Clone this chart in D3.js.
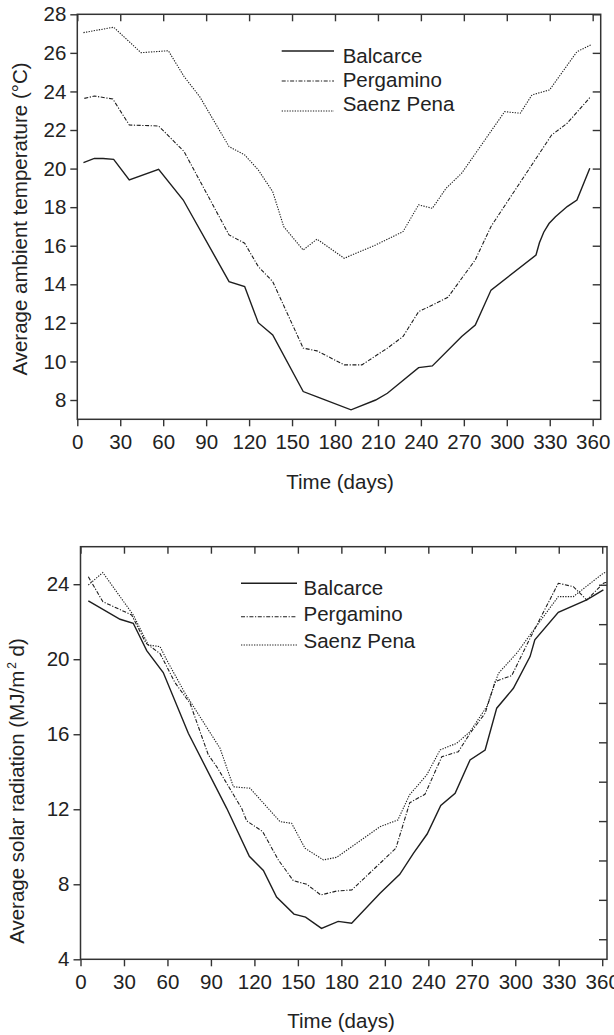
<!DOCTYPE html>
<html>
<head>
<meta charset="utf-8">
<script src="https://cdn.jsdelivr.net/npm/d3@7/dist/d3.min.js"></script>
<style>
  body { margin: 0; background: #fff; }
  svg { display: block; }
  text { font-family: "Liberation Sans", Arial, Helvetica, sans-serif; fill: #222; }
</style>
</head>
<body>
<div id="chart"></div>
<script>
// ---- data ----
const seriesNames = ['Balcarce', 'Pergamino', 'Saenz Pena'];
const xTicks = [0, 30, 60, 90, 120, 150, 180, 210, 240, 270, 300, 330, 360];

// top panel: average ambient temperature (°C), [day, value]
const tempBalcarce = [
    [4.3, 20.31], [11.9, 20.53], [18, 20.52], [25.4, 20.48], [36.3, 19.41], [56.8, 19.96],
    [74, 18.37], [106, 14.14], [116.9, 13.88], [126.4, 12.01], [136.5, 11.37], [157.8, 8.44],
    [168, 8.15], [191.2, 7.49], [208.4, 8.0], [216.6, 8.35], [238.4, 9.68], [248, 9.77],
    [268.5, 11.29], [278, 11.89], [289, 13.7], [320.4, 15.52], [322.8, 16.15], [325.8, 16.7],
    [329.5, 17.15], [334, 17.5], [342.2, 18.03], [349, 18.37], [358, 20.02]
];
const tempPergamino = [
    [4.9, 23.64], [11.9, 23.76], [24.8, 23.61], [36.3, 22.26], [56.8, 22.21], [74.6, 20.88],
    [106, 16.56], [116.9, 16.13], [126.4, 14.92], [136.5, 14.14], [157.8, 10.69], [167.4, 10.55],
    [186.5, 9.82], [198.8, 9.82], [216.6, 10.69], [227.5, 11.29], [238.4, 12.58], [250.7, 13.02],
    [258.9, 13.33], [278, 15.27], [289, 17.0], [301.2, 18.37], [331.3, 21.74], [342.2, 22.35],
    [358.6, 23.73]
];
const tempSaenzPena = [
    [4.3, 27.05], [25.4, 27.33], [44.5, 26.01], [63.6, 26.11], [74.6, 24.77], [85.5, 23.73],
    [106, 21.14], [116.9, 20.71], [126.4, 19.93], [136.5, 18.8], [144.2, 16.99], [157.8, 15.78],
    [167.4, 16.34], [186.5, 15.35], [208.4, 16.04], [227.5, 16.73], [238.4, 18.12], [248, 17.94],
    [257.6, 18.98], [268.5, 19.76], [298.5, 22.95], [309.4, 22.87], [317.6, 23.82], [329.9, 24.08],
    [349, 26.06], [358.6, 26.41]
];
const tempTicks = [8, 10, 12, 14, 16, 18, 20, 22, 24, 26, 28];

// bottom panel: average solar radiation (MJ/m2 d), [day, value]
const radBalcarce = [
    [5.4, 23.11], [27.3, 22.13], [36.4, 21.92], [45.7, 20.46], [57.1, 19.29], [74.4, 16.05],
    [100.9, 12.05], [116.5, 9.49], [126.2, 8.74], [135.3, 7.32], [147.3, 6.41], [155.3, 6.25],
    [166.3, 5.65], [177.8, 6.02], [187.1, 5.92], [206.7, 7.52], [220.3, 8.53], [229.7, 9.65],
    [239.2, 10.68], [248.6, 12.2], [258.5, 12.85], [268.8, 14.63], [279.2, 15.16], [287.2, 17.39],
    [298.7, 18.45], [310.2, 20.14], [313.5, 21.03], [329.7, 22.5], [349.3, 23.16], [360.8, 23.7]
];
const radPergamino = [
    [5.4, 24.4], [15.4, 23.07], [35.3, 22.36], [45.2, 20.85], [54.9, 20.3], [65.2, 18.75],
    [75.6, 17.65], [88.2, 14.9], [94, 14.27], [111.2, 12.05], [114.7, 11.38], [125.7, 10.81],
    [136.5, 9.3], [146.9, 8.19], [156.1, 8.0], [165.8, 7.43], [176.8, 7.64], [187.2, 7.7],
    [206.7, 9.12], [217.6, 9.92], [227.2, 12.35], [237.7, 12.8], [249.3, 14.8], [260.7, 15.07],
    [268.8, 16.05], [279.2, 17.12], [286.1, 18.81], [297.6, 19.13], [310.2, 21.12], [329.7, 24.05],
    [340.1, 23.87], [349.3, 23.16], [360.8, 24.05], [363, 24.1]
];
const radSaenzPena = [
    [5.4, 23.96], [15.4, 24.62], [36.4, 22.36], [46.8, 20.76], [54.9, 20.67], [59.5, 19.96],
    [72.1, 18.19], [96.3, 15.25], [105.5, 13.2], [117, 13.12], [137.7, 11.34], [145.7, 11.25],
    [154.9, 9.92], [167.6, 9.3], [176.8, 9.44], [206.7, 11.07], [219, 11.43], [227, 12.76],
    [238.9, 13.83], [248.1, 15.16], [259.6, 15.52], [268.8, 16.14], [280.3, 17.47], [288.4, 19.25],
    [301, 20.32], [310.2, 21.3], [329.7, 23.34], [340.1, 23.34], [360.8, 24.59], [363, 24.65]
];
const radTicks = [4, 8, 12, 16, 20, 24];
const radRightTicks = [5.07, 7.17, 9.27, 11.37, 13.47, 15.57, 17.67, 19.77, 21.87, 23.97];

// ---- drawing ----
const W = 614, H = 1035;
const svg = d3.select('#chart').append('svg')
    .attr('width', W).attr('height', H)
    .attr('viewBox', `0 0 ${W} ${H}`);

const styles = [
    { width: 1.4, dash: null },
    { width: 1.1, dash: '4,1.6,1.2,1.6' },
    { width: 1.1, dash: '1.3,1.3' }
];

function panel(cfg) {
    const x = d3.scaleLinear().domain([0, cfg.xMax]).range([cfg.left, cfg.right]);
    const y = d3.scaleLinear().domain(cfg.yDomain).range([cfg.bottom, cfg.top]);
    const g = svg.append('g');

    // series lines
    const line = d3.line().x(d => x(d[0])).y(d => y(d[1]));
    cfg.series.forEach((s, i) => {
        g.append('path')
            .attr('d', line(s))
            .attr('fill', 'none')
            .attr('stroke', '#1e1e1e')
            .attr('stroke-width', styles[i].width)
            .attr('stroke-dasharray', styles[i].dash);
    });

    // axes
    const axB = g.append('g').attr('transform', `translate(0,${cfg.bottom})`)
        .call(d3.axisBottom(x).tickValues(xTicks).tickSize(7).tickPadding(8.5).tickSizeOuter(0));
    const axT = g.append('g').attr('transform', `translate(0,${cfg.top})`)
        .call(d3.axisBottom(x).tickValues(xTicks).tickSize(7).tickFormat('').tickSizeOuter(0));
    const axL = g.append('g').attr('transform', `translate(${cfg.left},0)`)
        .call(d3.axisLeft(y).tickValues(cfg.yTicks).tickSize(7).tickPadding(4).tickSizeOuter(0));
    const axR = g.append('g').attr('transform', `translate(${cfg.right},0)`)
        .call(d3.axisLeft(y).tickValues(cfg.rightTicks).tickSize(8).tickFormat('').tickSizeOuter(0));

    [axB, axT, axL, axR].forEach(a => {
        a.select('.domain').remove();
        a.selectAll('line').attr('stroke', '#333').attr('stroke-width', 1.4);
        a.selectAll('text').attr('font-size', 20.5).attr('fill', '#222')
            .style('font-family', '"Liberation Sans", Arial, sans-serif');
    });
    axB.selectAll('text').attr('dy', '0.71em');

    // frame
    g.append('rect')
        .attr('x', cfg.left).attr('y', cfg.top)
        .attr('width', cfg.right - cfg.left).attr('height', cfg.bottom - cfg.top)
        .attr('fill', 'none').attr('stroke', '#333').attr('stroke-width', 1.5);

    // titles
    g.append('text')
        .attr('x', cfg.xTitle[0]).attr('y', cfg.xTitle[1])
        .attr('text-anchor', 'middle').attr('font-size', 20.5)
        .text('Time (days)');
    const yt = g.append('text')
        .attr('transform', `translate(${cfg.yTitle[0]},${cfg.yTitle[1]}) rotate(-90)`)
        .attr('text-anchor', 'middle').attr('font-size', 20.5);
    cfg.yLabel(yt);

    // legend
    cfg.series.forEach((s, i) => {
        const ly = cfg.legend.lineY[i];
        g.append('line')
            .attr('x1', cfg.legend.x1).attr('x2', cfg.legend.x2)
            .attr('y1', ly).attr('y2', ly)
            .attr('stroke', '#1e1e1e')
            .attr('stroke-width', styles[i].width)
            .attr('stroke-dasharray', styles[i].dash);
        g.append('text')
            .attr('x', cfg.legend.tx).attr('y', cfg.legend.textY[i])
            .attr('font-size', 20.5)
            .text(seriesNames[i]);
    });
}

panel({
    left: 77.3, right: 600.7, top: 14.3, bottom: 419.3,
    xMax: 365.6, yDomain: [7, 28],
    yTicks: tempTicks, rightTicks: tempTicks,
    series: [tempBalcarce, tempPergamino, tempSaenzPena],
    xTitle: [340, 489], yTitle: [27, 219],
    yLabel: t => t.text('Average ambient temperature (°C)'),
    legend: { x1: 281.7, x2: 334, tx: 342.7, lineY: [51, 81, 111], textY: [63, 87, 110.5] }
});

panel({
    left: 80.5, right: 607, top: 546.7, bottom: 959.3,
    xMax: 363.3, yDomain: [4, 26],
    yTicks: radTicks, rightTicks: radRightTicks,
    series: [radBalcarce, radPergamino, radSaenzPena],
    xTitle: [341, 1028], yTitle: [24, 791],
    yLabel: t => {
        t.append('tspan').text('Average solar radiation (MJ/m');
        t.append('tspan').attr('font-size', 12).attr('dy', -8).attr('dx', 2).text('2');
        t.append('tspan').attr('dy', 8).text(' d)');
    },
    legend: { x1: 241, x2: 297, tx: 303.5, lineY: [583.3, 616.7, 645], textY: [595, 621, 648.3] }
});
</script>
</body>
</html>
